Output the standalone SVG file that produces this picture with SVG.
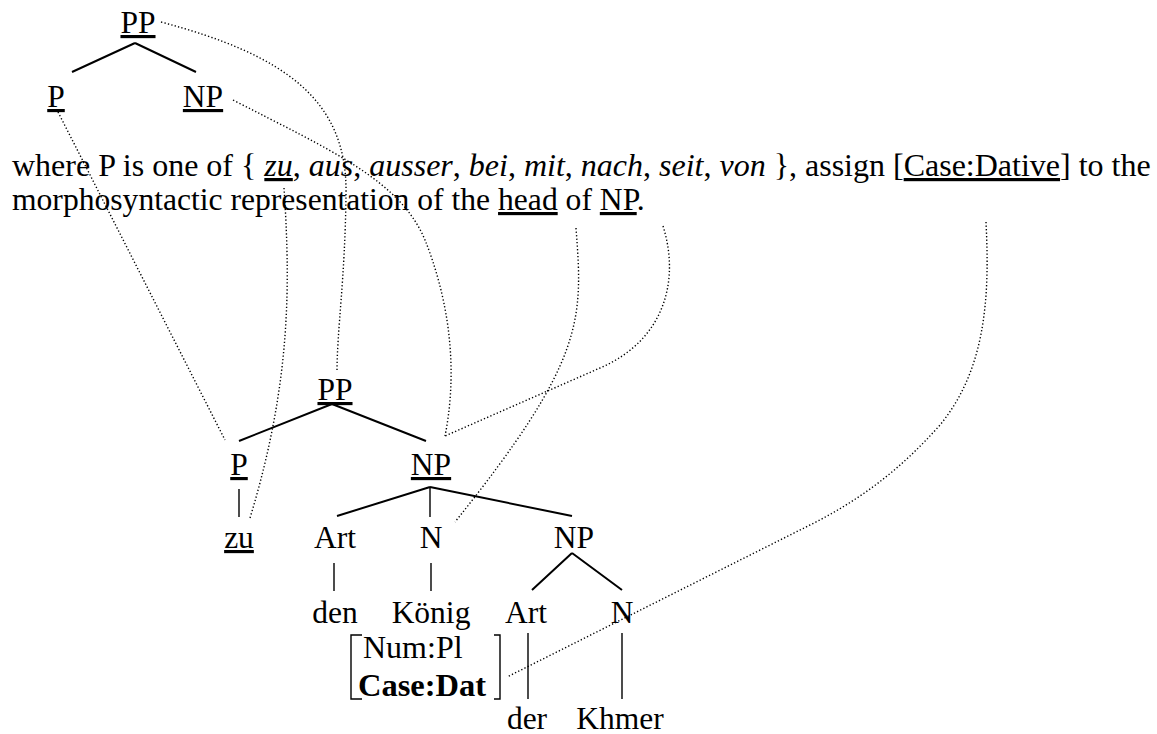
<svg xmlns="http://www.w3.org/2000/svg" width="1157" height="734" viewBox="0 0 1157 734">
<style>
text{font-family:"Liberation Serif","Times New Roman",serif;font-size:31.5px;fill:#000}
.c{text-anchor:middle}
.u{text-decoration:underline}
.i{font-style:italic}
.b{font-weight:bold}
.e{stroke:#000;stroke-width:2;fill:none}
.v{stroke:#000;stroke-width:1.4;fill:none}
.d{stroke:#000;stroke-width:1.4;fill:none;stroke-dasharray:1.3 2.2}
</style>
<g id="rule">
<g id="top-PP"><text class="c u" x="138" y="33">PP</text></g>
<g id="top-P"><text class="c u" x="56" y="107">P</text></g>
<g id="top-NP"><text class="c u" x="203" y="107">NP</text></g>
<g id="top-edges"><path class="e" d="M135,43 L72,72 M135,43 L196,72"/></g>
<g id="rule-text">
<text x="12" y="176" style="font-size:32px">where P is one of { <tspan class="i u">zu</tspan>, <tspan class="i">aus</tspan>, <tspan class="i">ausser</tspan>, <tspan class="i">bei</tspan>, <tspan class="i">mit</tspan>, <tspan class="i">nach</tspan>, <tspan class="i">seit</tspan>, <tspan class="i">von</tspan> }, assign [<tspan class="u">Case:Dative</tspan>] to the</text>
<text x="12" y="210" style="font-size:31.6px">morphosyntactic representation of the <tspan class="u">head</tspan> of <tspan class="u">NP</tspan>.</text>
</g>
</g>
<g id="tree">
<g id="PP"><text class="c u" x="335" y="400">PP</text></g>
<g id="P"><text class="c u" x="239" y="475">P</text></g>
<g id="NP"><text class="c u" x="431" y="475">NP</text></g>
<g id="zu"><text class="c u" x="239" y="548">zu</text></g>
<g id="Art1"><text class="c" x="335" y="548">Art</text></g>
<g id="N1"><text class="c" x="431" y="548">N</text></g>
<g id="NP2"><text class="c" x="574" y="548">NP</text></g>
<g id="den"><text class="c" x="335" y="623">den</text></g>
<g id="Koenig"><text class="c" x="431" y="623">König</text></g>
<g id="Art2"><text class="c" x="526" y="623">Art</text></g>
<g id="N2"><text class="c" x="622" y="623">N</text></g>
<g id="features">
<path class="v" d="M362,635 L351,635 L351,699 L362,699 M494,635 L500,635 L500,699 L494,699"/>
<text x="363" y="658" style="font-size:32px">Num:Pl</text>
<text class="b" x="358" y="696" style="font-size:32.5px">Case:Dat</text>
</g>
<g id="der"><text class="c" x="527" y="729">der</text></g>
<g id="Khmer"><text class="c" x="620" y="729">Khmer</text></g>
<g id="tree-edges">
<path class="e" d="M332,404 L239,441 M332,404 L426,441 M430,487 L337,516 M430,487 L572,516 M572,553 L532,590 M572,553 L622,590"/>
<path class="v" d="M239,489 L239,517 M430,487 L430,517 M334,563 L334,591 M431,563 L431,591 M528,633 L528,699 M622,633 L622,699"/>
</g>
</g>
<g id="connectors">
<path class="d" d="M58,112 L225,440"/>
<path class="d" d="M161,22 C285,55 348,100 346,195 C345,280 337,330 337,372"/>
<path class="d" d="M233,100 C330,150 400,180 425,240 C445,290 460,360 445,436"/>
<path class="d" d="M284,188 C290,280 292,380 250,518"/>
<path class="d" d="M576,228 C583,320 585,360 455,522"/>
<path class="d" d="M663,226 C680,280 665,340 600,368 L445,436"/>
<path class="d" d="M986,222 C990,300 985,370 940,425 C900,470 860,500 810,525 L507,677"/>
</g>
</svg>
